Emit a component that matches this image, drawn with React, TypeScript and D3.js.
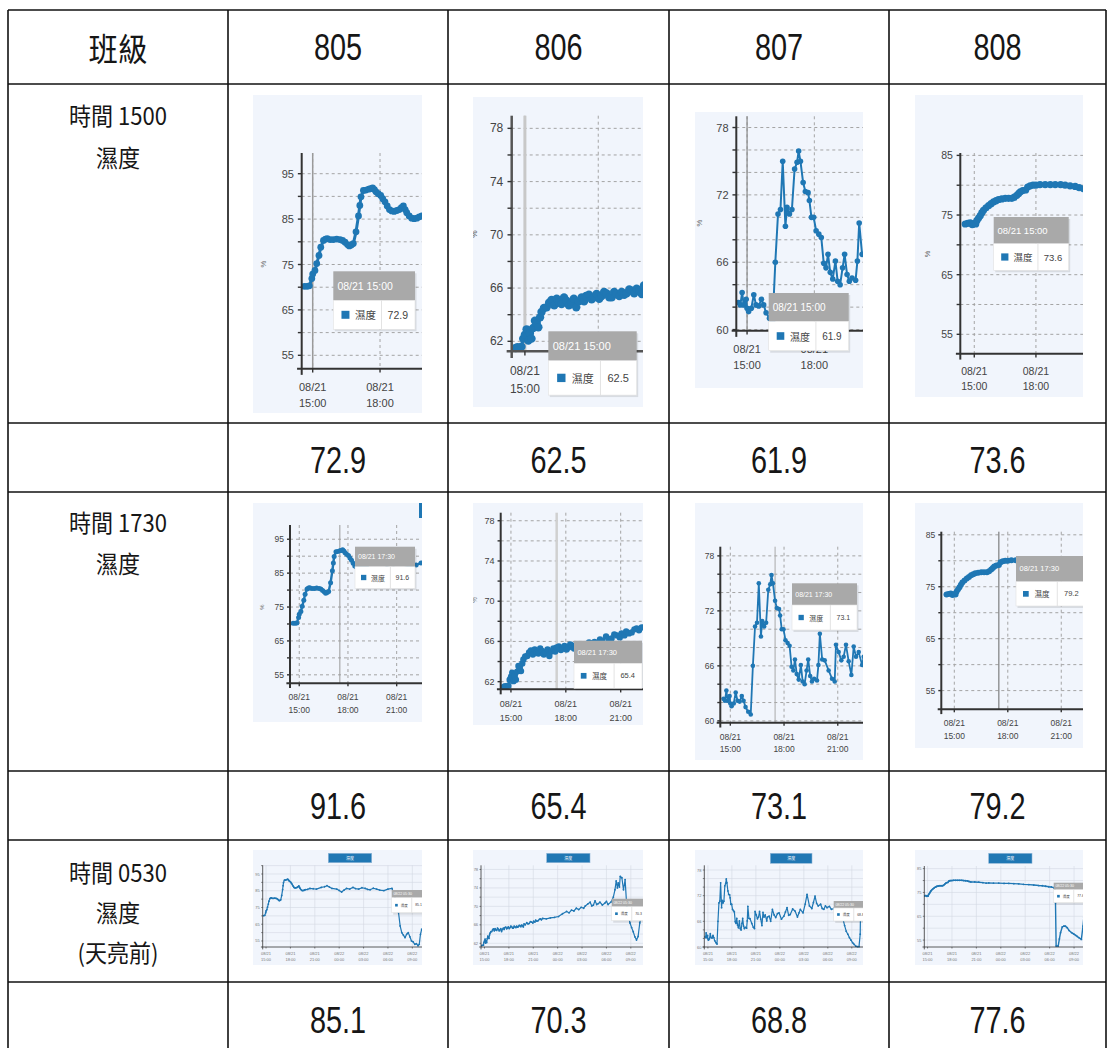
import React from 'react';
import * as d3 from 'd3';

// ---------- table content ----------
const classes = ['805', '806', '807', '808'];
const headerLabel = '班級';
const rowLabels = [
  ['時間 1500', '濕度'],
  ['時間 1730', '濕度'],
  ['時間 0530', '濕度', '(天亮前)'],
];
const readings1500 = ['72.9', '62.5', '61.9', '73.6'];
const readings1730 = ['91.6', '65.4', '73.1', '79.2'];
const readings0530 = ['85.1', '70.3', '68.8', '77.6'];
const tooltipTimes = ['08/21 15:00', '08/21 17:30', '08/22 05:30'];
const seriesName = '濕度';

// ---------- humidity series: [hours since 08/21 00:00, %] ----------
const series805: [number, number][] = [
  [14.62, 70.2], [14.75, 70.2], [14.85, 70.3], [14.96, 71.9], [15.0, 72.9], [15.1, 73.7], [15.18, 75.2],
  [15.28, 77.0], [15.36, 78.8], [15.48, 80.3], [15.57, 80.6], [15.65, 80.7], [15.78, 80.5], [15.92, 80.5],
  [16.07, 80.6], [16.22, 80.5], [16.33, 80.3], [16.44, 79.9], [16.55, 79.4], [16.63, 79.1], [16.72, 79.3],
  [16.81, 79.6], [16.93, 82.2], [17.04, 85.7], [17.1, 88.0], [17.15, 89.9], [17.26, 91.3], [17.37, 91.4],
  [17.5, 91.6], [17.58, 91.7], [17.67, 91.9], [17.75, 91.5], [17.82, 91.0], [17.92, 90.6], [18.03, 90.2],
  [18.12, 89.5], [18.22, 88.8], [18.32, 87.9], [18.42, 87.1], [18.52, 86.8], [18.63, 86.7], [18.75, 86.9],
  [18.86, 87.1], [18.95, 87.5], [19.04, 87.9], [19.12, 87.1], [19.19, 86.4], [19.3, 85.7], [19.41, 85.2],
  [19.52, 85.1], [19.64, 85.2], [19.75, 85.5], [19.86, 85.7], [20.1, 85.8], [20.4, 86.4], [20.8, 86.2],
  [21.2, 86.0], [21.8, 87.0], [22.2, 87.4], [22.5, 88.0], [22.8, 87.2], [23.1, 86.4], [23.7, 86.0],
  [24.0, 85.2], [24.3, 84.2], [24.6, 85.4], [24.9, 86.4], [25.3, 86.0], [25.7, 87.0], [26.0, 86.3],
  [26.4, 86.0], [26.8, 86.8], [27.2, 86.4], [27.5, 85.8], [27.8, 85.6], [28.2, 86.5], [28.6, 86.0],
  [29.0, 85.4], [29.5, 85.1], [30.0, 86.0], [30.5, 86.4], [30.8, 82.0], [31.1, 77.0], [31.3, 72.0],
  [31.5, 64.0], [31.7, 60.0], [31.9, 58.5], [32.1, 57.0], [32.3, 59.0], [32.5, 60.0], [32.7, 57.5],
  [32.9, 55.0], [33.1, 54.5], [33.3, 53.0], [33.5, 53.4], [33.7, 52.2], [33.85, 53.0], [34.0, 59.0], [34.15, 62.0],
];

const series806: [number, number][] = [
  [14.62, 61.5], [14.7, 61.55], [14.86, 61.6], [14.93, 62.2], [15.0, 62.5], [15.07, 62.9], [15.14, 62.05],
  [15.2, 62.6], [15.27, 62.2], [15.34, 63.0], [15.41, 63.55], [15.48, 63.3], [15.55, 63.05], [15.62, 63.8],
  [15.68, 64.2], [15.78, 64.5], [15.89, 64.55], [15.99, 64.9], [16.09, 65.1], [16.2, 64.7], [16.3, 65.2],
  [16.4, 64.9], [16.5, 64.8], [16.6, 65.3], [16.7, 65.05], [16.8, 64.7], [16.9, 64.9], [17.0, 65.2],
  [17.1, 64.55], [17.2, 65.0], [17.32, 65.3], [17.42, 65.0], [17.5, 65.4], [17.62, 65.5], [17.73, 65.15],
  [17.83, 65.3], [17.93, 65.55], [18.04, 65.2], [18.14, 65.4], [18.24, 65.7], [18.34, 65.6], [18.45, 65.3],
  [18.55, 65.3], [18.65, 65.7], [18.75, 65.55], [18.86, 65.4], [18.96, 65.7], [19.06, 65.5], [19.16, 65.6],
  [19.27, 65.9], [19.37, 65.8], [19.47, 65.6], [19.57, 65.95], [19.68, 65.8], [19.78, 65.55], [19.87, 66.2],
  [20.0, 66.0], [20.2, 66.5], [20.35, 66.2], [20.5, 66.3], [20.65, 66.7], [20.8, 66.6], [20.95, 66.4],
  [21.05, 66.8], [21.2, 66.6], [21.3, 67.0], [21.45, 66.8], [21.6, 66.9], [21.75, 67.2], [21.87, 67.3],
  [22.0, 67.1], [22.15, 67.4], [22.6, 67.3], [23.1, 67.5], [23.6, 67.6], [24.1, 67.8], [24.6, 68.4],
  [25.1, 68.9], [25.4, 68.6], [25.7, 69.2], [26.0, 69.0], [26.3, 69.6], [26.6, 69.3], [26.9, 69.8],
  [27.2, 69.6], [27.4, 70.1], [27.7, 70.5], [28.0, 70.9], [28.2, 70.1], [28.4, 70.3], [28.6, 71.2],
  [28.8, 70.4], [29.0, 70.6], [29.2, 70.9], [29.5, 70.3], [29.8, 70.7], [30.0, 71.1], [30.2, 70.4],
  [30.6, 71.0], [30.85, 72.0], [31.05, 73.6], [31.2, 75.5], [31.35, 74.0], [31.45, 75.1], [31.6, 74.2],
  [31.7, 76.5], [31.9, 76.2], [32.1, 73.6], [32.3, 75.8], [32.5, 70.0], [32.7, 68.0], [32.9, 66.4],
  [33.1, 65.4], [33.3, 64.5], [33.5, 63.4], [33.7, 62.7], [33.9, 63.5], [34.1, 66.4], [34.3, 68.2],
];

const series807: [number, number][] = [
  [14.62, 62.4], [14.7, 62.2], [14.78, 63.3], [14.85, 62.2], [14.96, 62.7], [15.0, 61.9], [15.07, 61.6],
  [15.19, 61.9], [15.3, 63.1], [15.4, 62.2], [15.52, 62.1], [15.64, 62.7], [15.74, 62.2], [15.85, 61.5],
  [16.0, 61.0], [16.14, 60.7], [16.26, 66.0], [16.38, 70.3], [16.49, 70.7], [16.59, 75.0], [16.71, 69.2],
  [16.78, 70.9], [16.89, 70.3], [17.0, 70.7], [17.12, 74.3], [17.23, 74.9], [17.3, 75.9], [17.38, 75.0],
  [17.5, 73.1], [17.6, 72.3], [17.72, 72.2], [17.78, 71.5], [17.87, 70.0], [17.97, 70.0], [18.08, 68.8],
  [18.2, 68.5], [18.31, 68.2], [18.42, 65.9], [18.52, 65.5], [18.61, 66.7], [18.71, 65.1], [18.82, 64.5],
  [18.94, 66.1], [19.04, 64.3], [19.15, 64.0], [19.26, 65.5], [19.35, 66.7], [19.46, 64.9], [19.56, 64.3],
  [19.68, 64.6], [19.84, 64.4], [19.92, 66.1], [20.0, 69.5], [20.13, 66.7], [20.27, 66.6], [20.49, 65.5],
  [20.68, 64.6], [20.83, 64.3], [20.9, 68.3], [21.05, 67.5], [21.2, 66.6], [21.33, 67.0], [21.46, 68.3],
  [21.61, 66.5], [21.76, 65.0], [21.89, 68.1], [22.02, 67.0], [22.17, 67.5], [22.36, 66.1], [22.45, 67.0],
  [22.66, 67.2], [22.85, 66.0], [23.07, 68.8], [23.28, 67.5], [23.48, 66.9], [23.7, 67.8], [23.9, 68.0],
  [24.2, 66.5], [24.5, 67.2], [24.7, 68.2], [24.9, 69.2], [25.1, 67.4], [25.3, 67.6], [25.6, 68.9],
  [25.9, 68.4], [26.2, 67.0], [26.4, 68.0], [26.56, 68.8], [26.9, 68.0], [27.17, 70.0], [27.4, 72.3],
  [27.7, 69.6], [28.0, 69.0], [28.2, 70.4], [28.4, 71.9], [28.6, 70.2], [28.8, 69.6], [29.1, 70.0],
  [29.3, 69.0], [29.5, 68.8], [29.7, 69.6], [29.9, 69.2], [30.2, 69.5], [30.45, 68.8], [30.75, 69.0],
  [31.07, 68.4], [31.5, 67.8], [31.9, 66.5], [32.1, 65.0], [32.3, 63.7], [32.5, 63.0], [32.7, 62.2],
  [32.9, 61.6], [33.1, 61.0], [33.3, 60.6], [33.5, 60.2], [33.7, 60.1], [33.9, 60.1], [34.05, 63.0], [34.1, 69.6],
];

const series808: [number, number][] = [
  [14.56, 73.5], [14.68, 73.6], [14.8, 73.7], [14.9, 73.4], [15.0, 73.6], [15.07, 73.5], [15.13, 74.1],
  [15.21, 74.5], [15.29, 74.9], [15.37, 75.4], [15.45, 75.8], [15.57, 76.2], [15.7, 76.6], [15.82, 76.9],
  [15.94, 77.2], [16.06, 77.4], [16.18, 77.6], [16.34, 77.7], [16.51, 77.8], [16.67, 77.8], [16.83, 77.8],
  [16.95, 78.0], [17.07, 78.3], [17.16, 78.6], [17.24, 78.9], [17.36, 79.1], [17.5, 79.2], [17.6, 79.7],
  [17.72, 79.9], [17.86, 80.0], [18.0, 80.0], [18.2, 80.1], [18.45, 80.1], [18.7, 80.1], [18.94, 80.1],
  [19.2, 80.1], [19.42, 80.0], [19.66, 79.9], [19.91, 79.8], [20.1, 79.6], [20.32, 79.4], [20.8, 79.4],
  [21.29, 79.3], [21.8, 79.1], [22.2, 78.9], [22.52, 79.0], [23.1, 78.9], [23.75, 78.9], [24.4, 78.8],
  [24.98, 78.8], [25.6, 78.7], [26.21, 78.6], [26.8, 78.4], [27.44, 78.3], [28.05, 78.1], [28.67, 77.9],
  [29.1, 77.8], [29.5, 77.6], [29.9, 77.4], [30.2, 77.3], [30.51, 77.0], [30.65, 76.5], [30.72, 70.7],
  [30.8, 52.5], [31.05, 52.5], [31.2, 55.5], [31.34, 58.1], [31.55, 60.5], [31.75, 60.9], [31.95, 60.8],
  [32.16, 60.2], [32.4, 59.0], [32.7, 58.1], [32.95, 57.6], [33.2, 57.0], [33.4, 56.5], [33.6, 56.0],
  [33.9, 55.3], [34.1, 60.9], [34.2, 64.4],
];

// ---------- axis ticks ----------
const yTicks805 = [55, 65, 75, 85, 95];
const yTicks806 = [62, 66, 70, 74, 78];
const yTicks807 = [60, 66, 72, 78];
const yTicks808 = [55, 65, 75, 85];
const xTicksShort = [15, 18];
const xTicksMid = [15, 18, 21];
const xTicksLong = [15, 18, 21, 24, 27, 30, 33];

const BLUE = '#1f77b4';
const NUM_FONT = '"Liberation Sans", Arial, sans-serif';
const CJK_FONT = '"Noto Sans CJK TC", "Noto Sans CJK SC", sans-serif';

type Cfg = {
  s: [number, number][];
  bg: [number, number, number, number];
  p: [number, number, number, number];
  xd: [number, number];
  yd: [number, number];
  yt: number[];
  step: number;
  xt: number[];
  cross?: number;
  cc?: string;
  cw?: number;
  tip: [number, number, number, number, number];
  tt: string;
  tv: string;
  fs: number;
  tfs: number;
  r: number;
  lw: number;
  aw?: number;
  ac?: string;
  small?: boolean;
  legend?: [number, number, number, number];
  pct?: [number, number];
  extra?: [number, number, number, number];
};

const charts: Cfg[] = [
  // row 1 (15:00)
  { s: series805, bg: [253, 95, 169, 318], p: [301.7, 153, 422, 368.7], xd: [14.51, 19.87], yd: [52.05, 99.56], yt: yTicks805, step: 5, xt: xTicksShort, cross: 15, cc: '#9a9a9a', cw: 1.5, tip: [333.3, 271.3, 81.7, 29, 29], tt: tooltipTimes[0], tv: readings1500[0], fs: 11, tfs: 10.5, r: 3.4, lw: 3, pct: [263, 264] },
  { s: series806, bg: [473, 97, 170, 310], p: [511.7, 115.7, 643, 351.3], xd: [14.46, 19.83], yd: [61.25, 78.95], yt: yTicks806, step: 2, xt: xTicksShort, cross: 15, cc: '#c8c8c8', cw: 3, tip: [548.3, 331.3, 88.4, 29.4, 34.4], tt: tooltipTimes[0], tv: readings1500[1], fs: 12, tfs: 11, r: 4.2, lw: 3, aw: 2.5, ac: '#555', pct: [474, 234] },
  { s: series807, bg: [695, 112, 168, 276], p: [736.3, 116.3, 863, 330.7], xd: [14.52, 20.17], yd: [59.9, 79.0], yt: yTicks807, step: 2, xt: xTicksShort, cross: 15, cc: '#888', cw: 1.2, tip: [768.7, 293, 80, 28.3, 29.4], tt: tooltipTimes[0], tv: readings1500[2], fs: 11, tfs: 10, r: 2.8, lw: 2, pct: [699, 223] },
  { s: series808, bg: [915, 95, 168, 302], p: [960.3, 153, 1083, 353.7], xd: [14.32, 20.29], yd: [51.75, 85.4], yt: yTicks808, step: 5, xt: xTicksShort, tip: [993.7, 217, 75, 26.7, 26.6], tt: tooltipTimes[0], tv: readings1500[3], fs: 10.5, tfs: 9.5, r: 3.6, lw: 4, pct: [927, 254] },
  // row 2 (17:30)
  { s: series805, bg: [253, 503, 169, 219], p: [290, 525, 422, 683.3], xd: [14.43, 22.56], yd: [52.5, 99.2], yt: yTicks805, step: 5, xt: xTicksMid, cross: 17.5, cc: '#999', cw: 1, tip: [355, 546.7, 60, 20, 21.6], tt: tooltipTimes[1], tv: readings1730[0], fs: 8.5, tfs: 7, r: 2.5, lw: 2.4, pct: [262, 607], extra: [419, 503, 3, 15] },
  { s: series806, bg: [473, 503, 170, 222], p: [500.7, 512.7, 643, 689.3], xd: [14.44, 22.22], yd: [61.24, 78.8], yt: yTicks806, step: 2, xt: xTicksMid, cross: 17.5, cc: '#d0d0d0', cw: 2.5, tip: [574, 640.7, 68, 22.6, 25], tt: tooltipTimes[1], tv: readings1730[1], fs: 9, tfs: 7.5, r: 3.2, lw: 2.5, pct: [474, 600] },
  { s: series807, bg: [695, 503, 168, 257], p: [720.3, 546.7, 863, 722.7], xd: [14.44, 22.41], yd: [59.8, 79.0], yt: yTicks807, step: 2, xt: xTicksMid, cross: 17.5, cc: '#aaa', cw: 1, tip: [792, 583.3, 65, 21.7, 25], tt: tooltipTimes[1], tv: readings1730[2], fs: 8.5, tfs: 7, r: 2.3, lw: 1.8 },
  { s: series808, bg: [915, 503, 168, 245], p: [941.3, 531.7, 1083, 709.3], xd: [14.27, 22.22], yd: [51.4, 85.6], yt: yTicks808, step: 5, xt: xTicksMid, cross: 17.5, cc: '#666', cw: 1, tip: [1016, 556, 70, 25.7, 24.3], tt: tooltipTimes[1], tv: readings1730[3], fs: 8.5, tfs: 7.5, r: 3, lw: 3 },
  // row 3 (05:30)
  { s: series805, bg: [253, 850, 169, 115], p: [262.7, 865.3, 422, 947], xd: [14.59, 34.19], yd: [51.4, 100.2], yt: yTicks805, step: 5, xt: xTicksLong, tip: [391.7, 890, 34, 7.7, 15], tt: tooltipTimes[2], tv: readings0530[0], fs: 4, tfs: 3.5, r: 0.9, lw: 1.2, small: true, legend: [328.3, 853.3, 43.4, 9.4] },
  { s: series806, bg: [473, 850, 170, 115], p: [481, 865.3, 643, 947], xd: [14.57, 34.5], yd: [61.2, 78.9], yt: yTicks806, step: 2, xt: xTicksLong, tip: [611.7, 898.7, 34, 8, 14], tt: tooltipTimes[2], tv: readings0530[1], fs: 4, tfs: 3.5, r: 0.9, lw: 1.2, small: true, legend: [546.7, 853.3, 43.3, 9.4] },
  { s: series807, bg: [695, 850, 168, 115], p: [704.3, 865.3, 863, 947], xd: [14.55, 34.4], yd: [60, 79.1], yt: yTicks807, step: 2, xt: xTicksLong, tip: [833.7, 901, 34, 7, 13], tt: tooltipTimes[2], tv: readings0530[2], fs: 4, tfs: 3.5, r: 0.9, lw: 1.2, small: true, legend: [770.3, 853.3, 41.7, 10] },
  { s: series808, bg: [915, 850, 168, 115], p: [924.3, 866, 1083, 947], xd: [14.6, 34.1], yd: [52.1, 86.1], yt: yTicks808, step: 5, xt: xTicksLong, tip: [1053.7, 882.7, 34, 7, 13], tt: tooltipTimes[2], tv: readings0530[3], fs: 4, tfs: 3.5, r: 0.9, lw: 1.4, small: true, legend: [988.7, 853.3, 43.3, 10] },
];

function fmtDate(t: number) {
  return t < 24 ? '08/21' : '08/22';
}
function fmtTime(t: number) {
  const h = Math.floor(t % 24);
  return `${String(h).padStart(2, '0')}:00`;
}

function MiniChart({ c, id }: { c: Cfg; id: string }) {
  const [L, T, R, B] = c.p;
  const [bx, by, bw, bh] = c.bg;
  const x = d3.scaleLinear().domain(c.xd).range([L, R]);
  const y = d3.scaleLinear().domain(c.yd).range([B, T]);
  const grid = d3.range(Math.ceil(c.yd[0] / c.step) * c.step, c.yd[1] + 1e-9, c.step);
  const line = d3.line<[number, number]>().x((d) => x(d[0])).y((d) => y(d[1]));
  const small = !!c.small;
  const gridColor = small ? '#d3d9e3' : '#a4a4a4';
  const dash = small ? undefined : '3,3';
  const tick = small ? 1.5 : Math.max(3, c.fs * 0.35);
  const aw = c.aw ?? (small ? 0.8 : 2);
  const ac = c.ac ?? '#333';
  const [tx, ty, tw, thh, tbh] = c.tip;
  const right = bx + bw;
  const labelColor = small ? '#777' : '#444';
  return (
    <g>
      <defs>
        <clipPath id={`bg${id}`}>
          <rect x={bx} y={by} width={bw} height={bh} />
        </clipPath>
        <clipPath id={`pl${id}`}>
          <rect x={L} y={by} width={right - L} height={B - by + 3} />
        </clipPath>
      </defs>
      <g clipPath={`url(#bg${id})`} fontFamily={NUM_FONT}>
        <rect x={bx} y={by} width={bw} height={bh} fill="#f1f5fc" />
        {grid.map((g) => (
          <line key={`g${g}`} x1={L} x2={right} y1={y(g)} y2={y(g)} stroke={gridColor} strokeWidth={small ? 0.6 : 1} strokeDasharray={dash} />
        ))}
        {c.xt.map((t) => (
          <line key={`v${t}`} x1={x(t)} x2={x(t)} y1={T} y2={B} stroke={gridColor} strokeWidth={small ? 0.6 : 1} strokeDasharray={dash} />
        ))}
        {c.cross != null && (
          <line x1={x(c.cross)} x2={x(c.cross)} y1={T} y2={B} stroke={c.cc} strokeWidth={c.cw} />
        )}
        <g clipPath={`url(#pl${id})`}>
          <path d={line(c.s) ?? ''} fill="none" stroke={BLUE} strokeWidth={c.lw} strokeLinejoin="round" />
          {c.s.map((d, i) => (
            <circle key={i} cx={x(d[0])} cy={y(d[1])} r={c.r} fill={BLUE} />
          ))}
        </g>
        {/* axes */}
        <line x1={L} x2={L} y1={T} y2={B + tick * 1.6} stroke={ac} strokeWidth={aw} />
        <line x1={L - tick * 1.2} x2={right} y1={B} y2={B} stroke={ac} strokeWidth={aw} />
        {grid.map((g) => (
          <line key={`t${g}`} x1={L - tick} x2={L} y1={y(g)} y2={y(g)} stroke="#333" strokeWidth={small ? 0.6 : 1.4} />
        ))}
        {c.yt.map((v) => (
          <text key={`yl${v}`} x={L - tick - c.fs * 0.35} y={y(v)} textAnchor="end" dominantBaseline="central" fontSize={c.fs} fill={labelColor}>
            {v}
          </text>
        ))}
        {c.xt.map((t) => (
          <g key={`xl${t}`}>
            <line x1={x(t)} x2={x(t)} y1={B} y2={B + tick} stroke="#333" strokeWidth={small ? 0.6 : 1.4} />
            <text x={x(t)} y={B + c.fs * 2.0} textAnchor="middle" fontSize={c.fs} fill={labelColor}>
              {fmtDate(t)}
            </text>
            <text x={x(t)} y={B + c.fs * 3.5} textAnchor="middle" fontSize={c.fs} fill={labelColor}>
              {fmtTime(t)}
            </text>
          </g>
        ))}
        {c.pct && (
          <text transform={`translate(${c.pct[0]},${c.pct[1]}) rotate(-90)`} textAnchor="middle" dominantBaseline="central" fontSize={c.fs * 0.7} fill="#666">
            %
          </text>
        )}
        {c.extra && <rect x={c.extra[0]} y={c.extra[1]} width={c.extra[2]} height={c.extra[3]} fill={BLUE} />}
        {c.legend && (
          <g>
            <rect x={c.legend[0]} y={c.legend[1]} width={c.legend[2]} height={c.legend[3]} fill={BLUE} stroke="#8fb6d8" strokeWidth={0.6} />
            <text x={c.legend[0] + c.legend[2] / 2} y={c.legend[1] + c.legend[3] / 2} textAnchor="middle" dominantBaseline="central" fontSize={4} fill="#fff" fontFamily={CJK_FONT}>
              {seriesName}
            </text>
          </g>
        )}
        {/* tooltip */}
        <g>
          <rect x={tx + 1.5} y={ty + 2} width={tw} height={thh + tbh} fill="rgba(0,0,0,0.10)" />
          <rect x={tx} y={ty} width={tw} height={thh} fill="#a9a9a9" />
          <rect x={tx} y={ty + thh} width={tw} height={tbh} fill="#ffffff" stroke="#e2e2e2" strokeWidth={0.6} />
          <text x={tx + tw * 0.05} y={ty + thh / 2} dominantBaseline="central" fontSize={c.tfs} fill="#ffffff">
            {c.tt}
          </text>
          <rect x={tx + tw * 0.1} y={ty + thh + tbh / 2 - c.tfs * 0.38} width={c.tfs * 0.76} height={c.tfs * 0.76} fill={BLUE} />
          <text x={tx + tw * 0.265} y={ty + thh + tbh / 2} dominantBaseline="central" fontSize={c.tfs} fill="#444" fontFamily={CJK_FONT}>
            {seriesName}
          </text>
          <line x1={tx + tw * 0.59} x2={tx + tw * 0.59} y1={ty + thh} y2={ty + thh + tbh} stroke="#dcdcdc" strokeWidth={0.8} />
          <text x={tx + tw * 0.79} y={ty + thh + tbh / 2} textAnchor="middle" dominantBaseline="central" fontSize={c.tfs} fill="#444">
            {c.tv}
          </text>
        </g>
      </g>
    </g>
  );
}

const colX = [8, 228, 448, 669, 889, 1106];
const rowY = [10, 84, 423, 492, 771, 840, 982];

function CellText({ x, y, t, size, sx, font }: { x: number; y: number; t: string; size: number; sx: number; font: string }) {
  return (
    <text transform={`translate(${x},${y}) scale(${sx},1)`} textAnchor="middle" dominantBaseline="central" fontSize={size} fontFamily={font} fill="#161616">
      {t}
    </text>
  );
}

export default function App() {
  const colCenters = d3.range(1, 5).map((i) => (colX[i] + colX[i + 1]) / 2);
  const labelX = (colX[0] + colX[1]) / 2;
  const valueRows: [string[], number][] = [
    [readings1500, 460],
    [readings1730, 806],
    [readings0530, 1020],
  ];
  const labelYs = [
    [115, 157],
    [522, 563],
    [872, 912, 952],
  ];
  return (
    <svg width={1107} height={1048} style={{ position: 'absolute', left: 0, top: 0, background: '#fff' }}>
      <rect x={0} y={0} width={1107} height={1048} fill="#fff" />
      {charts.map((c, i) => (
        <MiniChart key={i} c={c} id={`c${i}`} />
      ))}
      {/* table grid */}
      {rowY.map((yy) => (
        <line key={`h${yy}`} x1={colX[0]} x2={colX[5]} y1={yy} y2={yy} stroke="#111" strokeWidth={1.6} />
      ))}
      {colX.map((xx) => (
        <line key={`c${xx}`} x1={xx} x2={xx} y1={rowY[0]} y2={1048} stroke="#111" strokeWidth={1.6} />
      ))}
      {/* header */}
      <CellText x={labelX} y={47} t={headerLabel} size={32} sx={0.92} font={CJK_FONT} />
      {classes.map((k, i) => (
        <CellText key={k} x={colCenters[i]} y={47} t={k} size={37} sx={0.78} font={NUM_FONT} />
      ))}
      {rowLabels.map((lines, r) =>
        lines.map((t, j) => (
          <CellText key={`${r}-${j}`} x={labelX} y={labelYs[r][j]} t={t} size={24} sx={0.92} font={CJK_FONT} />
        ))
      )}
      {valueRows.map(([vals, yy]) =>
        vals.map((v, i) => <CellText key={`${yy}-${i}`} x={colCenters[i]} y={yy} t={v} size={37} sx={0.78} font={NUM_FONT} />)
      )}
    </svg>
  );
}
